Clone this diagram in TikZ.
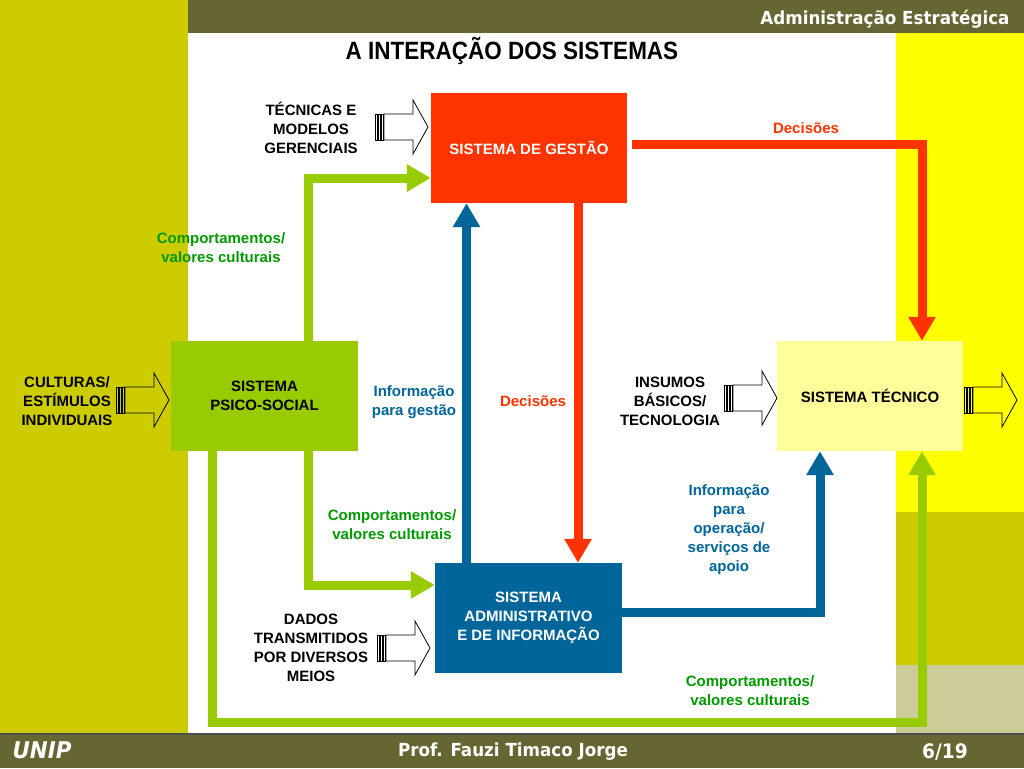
\documentclass[tikz,border=0pt]{standalone}
\usepackage{fontspec}
\setmainfont{Liberation Sans}
\newfontfamily\titulofonte[FakeStretch=0.9]{Liberation Sans}
\newfontfamily\barrafonte[FakeStretch=0.93]{DejaVu Sans}
\usetikzlibrary{arrows.meta, calc}
\definecolor{oliva}{RGB}{204,204,0}
\definecolor{olivaesc}{RGB}{102,102,51}
\definecolor{amarelo}{RGB}{255,255,0}
\definecolor{caqui}{RGB}{204,204,153}
\definecolor{vermelho}{RGB}{255,51,0}
\definecolor{verde}{RGB}{153,204,0}
\definecolor{azul}{RGB}{0,102,153}
\definecolor{amareloclaro}{RGB}{255,255,153}
\definecolor{verdetexto}{RGB}{0,153,0}
\newcommand{\txtdiag}{\bfseries\fontsize{15}{19}\selectfont}
\tikzset{
    sistema/.style={minimum width=187pt, minimum height=110pt, inner sep=0pt, align=center, font=\txtdiag},
    rotulo/.style={align=center, font=\txtdiag, inner sep=0pt},
    fluxo/.style={-{Triangle[length=24pt, width=26pt]}, line width=9pt},
    comport/.style={fluxo, verde},
    decisao/.style={fluxo, vermelho},
    informa/.style={fluxo, azul},
    entrada/.pic={
        \draw[line width=0.8pt] (9,-13) -- (38,-13) -- (38,-27) -- (53,0) -- (38,27) -- (38,13) -- (9,13) -- cycle;
        \foreach \i in {0,3,6} \draw[line width=0.8pt] (\i,-13) rectangle (\i+2,13);
    }
}

\begin{document}
\begin{tikzpicture}[x=1pt, y=-1pt]
    \useasboundingbox (0,0) rectangle (1024,768);
    % Fundo
    \fill[white] (0,0) rectangle (1024,768);
    \fill[oliva] (0,0) rectangle (188,735);
    \fill[olivaesc] (188,0) rectangle (1024,33);
    \fill[amarelo] (896,33) rectangle (1024,512);
    \fill[oliva] (896,512) rectangle (1024,665);
    \fill[caqui] (896,665) rectangle (1024,735);
    \fill[olivaesc] (0,735) rectangle (1024,768);
    \draw[black!70, line width=1.5pt] (0,734) -- (1024,734);

    % Cabecalho e rodape
    \node[anchor=east, text=white, font=\barrafonte\bfseries\fontsize{18}{20}\selectfont] (cab) at (1013,19) {Administração Estratégica};
    \node[anchor=west, text=white, font=\barrafonte\bfseries\itshape\fontsize{23}{24}\selectfont] (unip) at (9,750) {UNIP};
    \node[text=white, font=\barrafonte\bfseries\fontsize{18}{20}\selectfont] (prof) at (513,752) {Prof. Fauzi Timaco Jorge};
    \node[text=white, font=\barrafonte\bfseries\fontsize{20}{22}\selectfont] (pag) at (945,752) {6/19};

    % Titulo
    \node[font=\titulofonte\bfseries\fontsize{25}{28}\selectfont] (titulo) at (512,51) {A INTERAÇÃO DOS SISTEMAS};

    % Sistemas
    \node[sistema, minimum width=196pt, fill=vermelho, text=white] (gestao) at (529,148) {SISTEMA DE GESTÃO};
    \node[sistema, fill=verde] (psico) at (264.5,396) {SISTEMA\\PSICO-SOCIAL};
    \node[sistema, fill=azul, text=white] (admin) at (528.5,618) {SISTEMA\\ADMINISTRATIVO\\E DE INFORMAÇÃO};
    \node[sistema, minimum width=186pt, fill=amareloclaro] (tecnico) at (870,396) {SISTEMA TÉCNICO};

    % Entradas
    \node[rotulo] (tecnicas) at (311,128) {TÉCNICAS E\\MODELOS\\GERENCIAIS};
    \node[rotulo] (culturas) at (67,401) {CULTURAS/\\ESTÍMULOS\\INDIVIDUAIS};
    \node[rotulo] (insumos) at (670,401) {INSUMOS\\BÁSICOS/\\TECNOLOGIA};
    \node[rotulo] (dados) at (311,648) {DADOS\\TRANSMITIDOS\\POR DIVERSOS\\MEIOS};
    \pic (sa) at (375,127) {entrada};
    \pic (sb) at (116,400) {entrada};
    \pic (sc) at (724,398) {entrada};
    \pic (sd) at (964,400) {entrada};
    \pic (se) at (377,648) {entrada};

    % Fluxos
    \coordinate (ib) at ($(admin.north)+(-62,0)$);
    \coordinate (da) at ($(gestao.south)+(49,0)$);
    \coordinate (cb) at ($(psico.south)+(44,0)$);
    \coordinate (cc) at ($(psico.south)+(-52,0)$);
    \coordinate (ct) at ($(tecnico.south)+(52,0)$);
    \coordinate (fundo) at (0,722);
    \draw[comport] ($(psico.north)+(44,0)$) |- ($(gestao.west)+(0,30)$);
    \draw[decisao] ($(gestao.east)+(5,-4)$) -| ($(tecnico.north)+(52,0)$);
    \draw[informa] (ib) -- (ib |- gestao.south);
    \draw[decisao] (da) -- (da |- admin.north);
    \draw[comport] (cb) |- ($(admin.west)+(0,-33)$);
    \draw[informa] ($(admin.east)+(0,-6)$) -| ($(tecnico.south)+(-50,0)$);
    \draw[comport] (cc) |- (fundo -| ct) -- (ct);

    % Rotulos dos fluxos
    \node[rotulo, text=vermelho] (dec1) at (806,128) {Decisões};
    \node[rotulo, text=verdetexto] (cv1) at (221,248) {Comportamentos/\\valores culturais};
    \node[rotulo, text=azul] (ig) at (414,402) {Informação\\para gestão};
    \node[rotulo, text=vermelho] (dec2) at (533,401) {Decisões};
    \node[rotulo, text=verdetexto] (cv2) at (392,525) {Comportamentos/\\valores culturais};
    \node[rotulo, text=azul] (io) at (729,530) {Informação\\para\\operação/\\serviços de\\apoio};
    \node[rotulo, text=verdetexto] (cv3) at (750,691) {Comportamentos/\\valores culturais};
\end{tikzpicture}
\end{document}
